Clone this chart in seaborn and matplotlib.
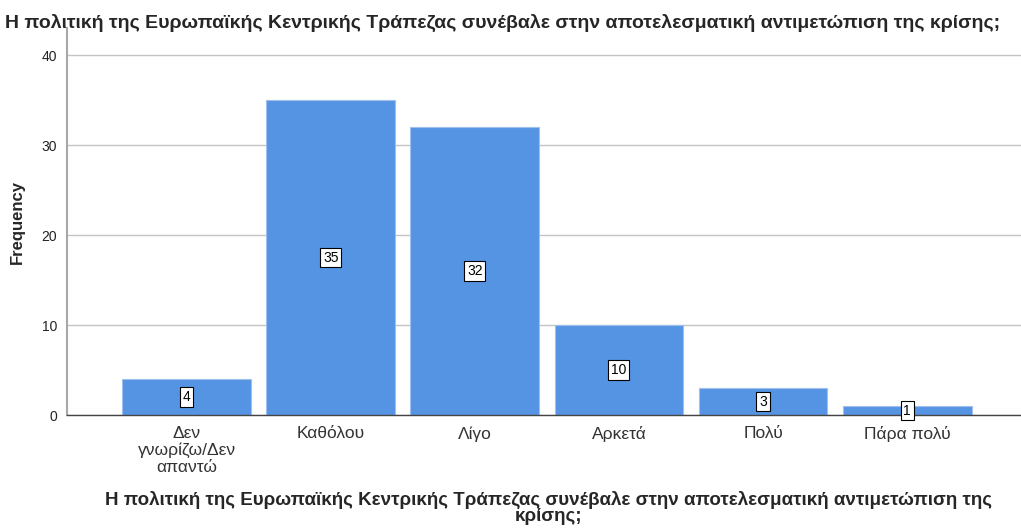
import matplotlib
matplotlib.use('Agg')
import matplotlib.pyplot as plt
import pandas as pd
import seaborn as sns

# data
categories = ['Δεν\nγνωρίζω/Δεν\nαπαντώ', 'Καθόλου', 'Λίγο', 'Αρκετά', 'Πολύ', 'Πάρα πολύ']
counts = [4, 35, 32, 10, 3, 1]
title = 'Η πολιτική της Ευρωπαϊκής Κεντρικής Τράπεζας συνέβαλε στην αποτελεσματική αντιμετώπιση της κρίσης;'
xlabel = 'Η πολιτική της Ευρωπαϊκής Κεντρικής Τράπεζας συνέβαλε στην αποτελεσματική αντιμετώπιση της\nκρίσης;'
yticks = [0, 10, 20, 30, 40]

df = pd.DataFrame({'cat': categories, 'n': counts})

sns.set_style('white')
plt.rcParams['font.family'] = ['Liberation Sans', 'DejaVu Sans']

fig = plt.figure(figsize=(10.21, 5.29), dpi=100)
ax = fig.add_axes([0.0656, 0.2155, 0.9344, 0.7315])

sns.barplot(data=df, x='cat', y='n', color='#5594E3', saturation=1, width=0.894,
            edgecolor='#9fc0ec', linewidth=0.8, ax=ax, zorder=2)

# value labels in the middle of bars
for i, v in enumerate(counts):
    ax.text(i, v / 2, str(v), ha='center', va='center', fontsize=10, color='black',
            bbox=dict(boxstyle='square,pad=0.2', facecolor='white', edgecolor='black', linewidth=0.8),
            zorder=3)

ax.set_xlim(-0.83, 5.79)
ax.set_ylim(0, 43)
ax.set_yticks(yticks)
ax.yaxis.grid(True, color='#c4c4c4', linewidth=1, zorder=0)
ax.set_axisbelow(True)

for s in ['top', 'right']:
    ax.spines[s].set_visible(False)
ax.spines['left'].set_color('#a8a8a8')
ax.spines['bottom'].set_color('#444444')
ax.spines['left'].set_linewidth(1.5)
ax.spines['bottom'].set_linewidth(1)

ax.tick_params(axis='y', labelsize=10, colors='#222222', length=0, pad=7)
ax.tick_params(axis='x', labelsize=12.5, colors='#333333', length=0, pad=8)
for lab in ax.get_xticklabels():
    lab.set_linespacing(1.12)

ax.set_ylabel('Frequency', fontsize=12, fontweight='bold', labelpad=12)
ax.set_xlabel(xlabel, fontsize=13.5, fontweight='bold', linespacing=0.95)
ax.xaxis.set_label_coords(0.505, -0.195)

fig.text(0.005, 0.957, title, fontsize=14, fontweight='bold', ha='left', va='center')

fig.savefig('out.png', dpi=100)
